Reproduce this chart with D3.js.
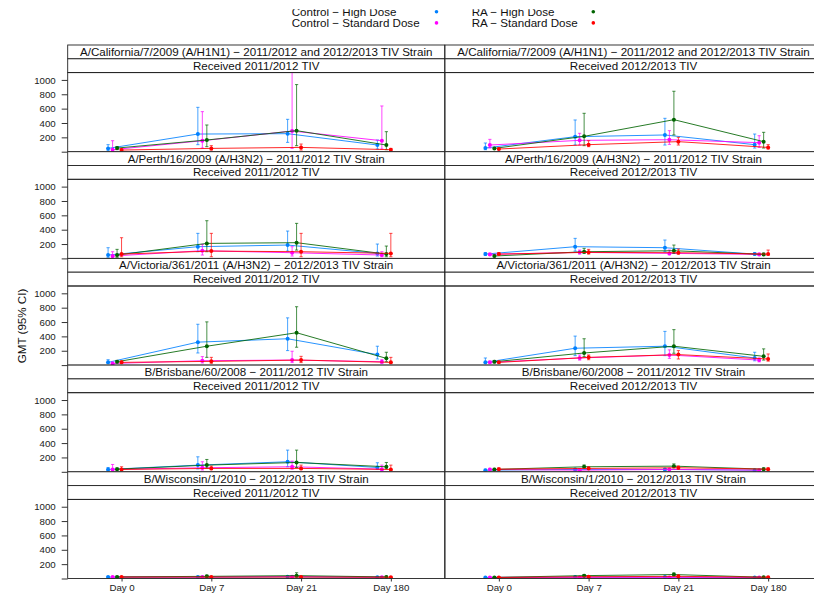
<!DOCTYPE html>
<html>
<head>
<meta charset="utf-8">
<script src="https://cdn.jsdelivr.net/npm/d3@7"></script>
<style>
  body { margin: 0; background: #fff; }
  svg { display: block; font-family: "Liberation Sans", Arial, sans-serif; }
</style>
</head>
<body>
<div id="chart"></div>
<script>
// categories
var days = ["Day 0", "Day 7", "Day 21", "Day 180"];
var groups = ["Control − High Dose", "Control − Standard Dose", "RA − High Dose", "RA − Standard Dose"];
var strains = [
  "A/California/7/2009 (A/H1N1) − 2011/2012 and 2012/2013 TIV Strain",
  "A/Perth/16/2009 (A/H3N2) − 2011/2012 TIV Strain",
  "A/Victoria/361/2011 (A/H3N2) − 2012/2013 TIV Strain",
  "B/Brisbane/60/2008 − 2011/2012 TIV Strain",
  "B/Wisconsin/1/2010 − 2012/2013 TIV Strain"
];
var received = ["Received 2011/2012 TIV", "Received 2012/2013 TIV"];
var yTicks = [0, 200, 400, 600, 800, 1000];

// GMT and 95% CI, one row per group (blue, magenta, green, red), one column per day
var cal11_gmt = [[46, 246, 251, 93], [28, 153, 288, 153], [51, 163, 293, 93], [23, 46, 60, 28]];
var cal11_lo  = [[14, 98, 130, 37], [5, 51, 46, 37], [28, 70, 84, 28], [9, 23, 23, 9]];
var cal11_hi  = [[98, 618, 451, 163], [153, 558, 1150, 637], [70, 372, 935, 279], [37, 84, 107, 46]];

var cal12_gmt = [[51, 209, 233, 98], [93, 158, 167, 126], [46, 214, 446, 140], [37, 98, 140, 60]];
var cal12_lo  = [[28, 93, 93, 51], [51, 93, 102, 60], [37, 84, 233, 51], [28, 70, 93, 37]];
var cal12_hi  = [[121, 442, 465, 246], [172, 256, 293, 223], [60, 535, 842, 270], [46, 153, 200, 98]];

var per11_gmt = [[47, 163, 186, 70], [33, 107, 79, 47], [47, 209, 219, 60], [60, 102, 93, 70]];
var per11_lo  = [[15, 93, 102, 33], [10, 47, 33, 23], [15, 93, 116, 23], [23, 23, 23, 23]];
var per11_hi  = [[149, 349, 381, 200], [93, 195, 163, 93], [126, 525, 488, 172], [288, 349, 349, 349]];

var per12_gmt = [[60, 163, 149, 60], [56, 84, 70, 56], [33, 93, 107, 56], [60, 84, 79, 60]];
var per12_lo  = [[40, 102, 93, 45], [40, 60, 50, 40], [20, 70, 70, 40], [45, 60, 60, 45]];
var per12_hi  = [[80, 279, 256, 80], [75, 116, 116, 75], [45, 140, 186, 75], [80, 126, 130, 116]];

var vic11_gmt = [[38, 320, 367, 146], [23, 61, 70, 47], [47, 263, 451, 94], [38, 52, 70, 38]];
var vic11_lo  = [[20, 169, 202, 85], [10, 30, 35, 25], [30, 108, 249, 47], [20, 25, 35, 20]];
var vic11_hi  = [[75, 569, 658, 263], [40, 118, 193, 75], [65, 602, 813, 179], [55, 108, 122, 108]];

var vic12_gmt = [[38, 235, 263, 99], [38, 99, 141, 70], [47, 169, 263, 122], [38, 108, 146, 85]];
var vic12_lo  = [[20, 132, 132, 60], [25, 70, 94, 45], [30, 118, 165, 70], [25, 75, 85, 55]];
var vic12_hi  = [[99, 404, 470, 179], [55, 141, 212, 100], [65, 367, 494, 226], [55, 141, 202, 155]];

var bri11_gmt = [[33, 93, 140, 60], [33, 56, 70, 37], [37, 93, 130, 70], [33, 47, 47, 33]];
var bri11_lo  = [[20, 40, 70, 35], [15, 25, 35, 20], [25, 50, 60, 40], [20, 30, 30, 20]];
var bri11_hi  = [[60, 209, 302, 126], [102, 140, 149, 93], [55, 172, 302, 130], [70, 79, 93, 93]];

var bri12_gmt = [[23, 33, 33, 23], [33, 23, 33, 23], [33, 70, 79, 37], [37, 47, 56, 37]];
var bri12_lo  = [[15, 22, 22, 15], [22, 15, 22, 15], [22, 50, 55, 25], [25, 32, 38, 25]];
var bri12_hi  = [[35, 48, 48, 35], [48, 35, 48, 35], [48, 95, 110, 55], [55, 68, 80, 55]];

var wis11_gmt = [[20, 20, 25, 18], [20, 20, 25, 18], [22, 30, 40, 22], [20, 20, 20, 18]];
var wis11_lo  = [[14, 14, 17, 12], [14, 14, 17, 12], [15, 20, 22, 15], [14, 14, 14, 12]];
var wis11_hi  = [[28, 28, 36, 26], [28, 28, 36, 26], [32, 45, 80, 32], [28, 28, 28, 26]];

var wis12_gmt = [[15, 20, 20, 15], [15, 15, 15, 15], [15, 40, 55, 18], [15, 25, 30, 18]];
var wis12_lo  = [[10, 14, 14, 10], [10, 10, 10, 10], [10, 28, 38, 12], [10, 17, 20, 12]];
var wis12_hi  = [[22, 28, 28, 22], [22, 22, 22, 22], [22, 56, 78, 26], [22, 36, 44, 26]];

var panels = [
  [cal11_gmt, cal11_lo, cal11_hi], [cal12_gmt, cal12_lo, cal12_hi],
  [per11_gmt, per11_lo, per11_hi], [per12_gmt, per12_lo, per12_hi],
  [vic11_gmt, vic11_lo, vic11_hi], [vic12_gmt, vic12_lo, vic12_hi],
  [bri11_gmt, bri11_lo, bri11_hi], [bri12_gmt, bri12_lo, bri12_hi],
  [wis11_gmt, wis11_lo, wis11_hi], [wis12_gmt, wis12_lo, wis12_hi]
];

// layout
var width = 814, height = 593;
var colors = ["#0080ff", "#ff00ff", "#006400", "#ff0000"];
var dodge = [-0.15, -0.10, -0.05, 0];
var colLeft = [67.7, 445], colWidth = 377;
var top0 = 45, rowH = 106.7, stripH = 13.8;
var panelH = rowH - 2 * stripH;

var svg = d3.select("#chart").append("svg")
    .attr("width", width)
    .attr("height", height);

var y = d3.scaleLinear().domain([0, 1102]).range([panelH, 0]);

// legend (top line is cut off in the original)
svg.append("clipPath").attr("id", "legclip")
  .append("rect").attr("x", 0).attr("y", 9.3).attr("width", width).attr("height", 30);
var legend = svg.append("g").attr("clip-path", "url(#legclip)");
var legX = [291.7, 471.7], legDot = [436.5, 593.3], legY = [15.7, 26.9];
groups.forEach(function (g, i) {
    var c = i < 2 ? 0 : 1, r = i % 2;
    legend.append("text")
        .attr("x", legX[c]).attr("y", legY[r])
        .attr("font-size", 11.6).attr("fill", "#111")
        .text(g);
    legend.append("circle")
        .attr("cx", legDot[c]).attr("cy", legY[r] - 4)
        .attr("r", 1.8).attr("fill", colors[i]);
});

// y label
svg.append("text")
    .attr("transform", "translate(25.5,326) rotate(-90)")
    .attr("text-anchor", "middle")
    .attr("font-size", 11.6).attr("fill", "#111")
    .text("GMT (95% CI)");

panels.forEach(function (p, k) {
    var row = Math.floor(k / 2), col = k % 2;
    var gx = colLeft[col], gy = top0 + row * rowH;
    var x = d3.scaleLinear().domain([0.4, 4.6]).range([0, colWidth]);

    var g = svg.append("g").attr("transform", "translate(" + gx + "," + gy + ")");

    // strips
    [strains[row], received[col]].forEach(function (t, s) {
        g.append("rect")
            .attr("x", 0).attr("y", s * stripH)
            .attr("width", colWidth).attr("height", stripH)
            .attr("fill", "#fff").attr("stroke", "#222").attr("stroke-width", 0.9);
        g.append("text")
            .attr("x", colWidth / 2).attr("y", s * stripH + stripH / 2 + 4.1)
            .attr("text-anchor", "middle")
            .attr("font-size", 11.6).attr("fill", "#111")
            .text(t);
    });

    var pg = g.append("g").attr("transform", "translate(0," + (2 * stripH) + ")");
    var cid = "clip" + k;
    pg.append("clipPath").attr("id", cid)
      .append("rect").attr("width", colWidth).attr("height", panelH);

    var plot = pg.append("g").attr("clip-path", "url(#" + cid + ")");
    var gmt = p[0], lo = p[1], hi = p[2];

    var line = d3.line()
        .x(function (d) { return x(d.i + 1 + d.off); })
        .y(function (d) { return y(d.v); });

    groups.forEach(function (gr, s) {
        var pts = gmt[s].map(function (v, i) {
            return {i: i, off: dodge[s], v: v, lo: lo[s][i], hi: hi[s][i]};
        });
        plot.append("path")
            .attr("d", line(pts))
            .attr("fill", "none")
            .attr("stroke", colors[s])
            .attr("stroke-width", 1)
            .attr("stroke-opacity", 0.85);

        var bars = plot.selectAll(".bar" + s).data(pts).enter().append("g");
        bars.append("line")
            .attr("x1", function (d) { return x(d.i + 1 + d.off); })
            .attr("x2", function (d) { return x(d.i + 1 + d.off); })
            .attr("y1", function (d) { return y(d.lo); })
            .attr("y2", function (d) { return y(d.hi); })
            .attr("stroke", colors[s]).attr("stroke-width", 0.9).attr("stroke-opacity", 0.8);
        ["lo", "hi"].forEach(function (e) {
            bars.append("line")
                .attr("x1", function (d) { return x(d.i + 1 + d.off) - 1.6; })
                .attr("x2", function (d) { return x(d.i + 1 + d.off) + 1.6; })
                .attr("y1", function (d) { return y(d[e]); })
                .attr("y2", function (d) { return y(d[e]); })
                .attr("stroke", colors[s]).attr("stroke-width", 0.9).attr("stroke-opacity", 0.8);
        });
        plot.selectAll(".pt" + s).data(pts).enter().append("circle")
            .attr("cx", function (d) { return x(d.i + 1 + d.off); })
            .attr("cy", function (d) { return y(d.v); })
            .attr("r", 2)
            .attr("fill", colors[s]);
    });

    // panel border
    pg.append("rect")
        .attr("width", colWidth).attr("height", panelH)
        .attr("fill", "none").attr("stroke", "#222").attr("stroke-width", 0.9);

    // y axis on left column
    if (col === 0) {
        var ya = pg.append("g")
            .call(d3.axisLeft(y).tickValues(yTicks).tickSize(6).tickPadding(6)
                .tickFormat(function (d) { return d === 0 ? "" : d; }));
        ya.select(".domain").remove();
        ya.selectAll("line").attr("stroke", "#333");
        ya.selectAll("text").attr("font-size", 9.7).attr("fill", "#222")
            .attr("font-family", "Liberation Sans, Arial, sans-serif");
    }

    // x axis on bottom row
    if (row === strains.length - 1) {
        var xa = pg.append("g")
            .attr("transform", "translate(0," + panelH + ")")
            .call(d3.axisBottom(x).tickValues([1, 2, 3, 4]).tickSize(3).tickPadding(3)
                .tickFormat(function (d) { return days[d - 1]; }));
        xa.select(".domain").remove();
        xa.selectAll("line").attr("stroke", "#333");
        xa.selectAll("text").attr("font-size", 9.7).attr("fill", "#222")
            .attr("font-family", "Liberation Sans, Arial, sans-serif");
    }
});
</script>
</body>
</html>
